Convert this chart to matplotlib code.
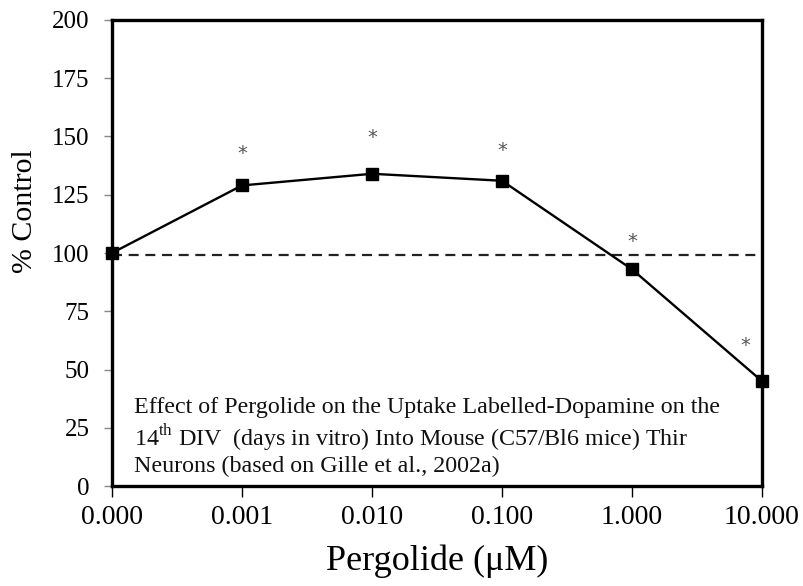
import matplotlib
matplotlib.use("Agg")
import matplotlib.pyplot as plt

plt.rcParams['font.family'] = ['Liberation Serif', 'DejaVu Serif']
plt.rcParams['mathtext.fontset'] = 'custom'
plt.rcParams['mathtext.rm'] = 'Liberation Serif'

# Pergolide concentrations (µM) shown as evenly spaced categories
dose_labels = ["0.000", "0.001", "0.010", "0.100", "1.000", "10.000"]
percent_control = [100, 129, 134, 131, 93, 45]
control_level = 99

# Significance markers: category index, height (% control)
star_idx = [1, 2, 3, 4, 4.87]
star_y = [142.5, 149.5, 144, 105, 60.5]

y_ticks = [0, 25, 50, 75, 100, 125, 150, 175, 200]

fig = plt.figure(figsize=(8.04, 5.86), dpi=100)
ax = fig.add_axes([0.1393, 0.1706, 0.8085, 0.7953])

x = list(range(len(dose_labels)))
ax.axhline(control_level, color='#222222', lw=1.6, ls=(0, (4.5, 3)),
           xmax=0.993, zorder=2)
ax.plot(x, percent_control, color='black', lw=1.7, marker='s',
        markersize=8.5, clip_on=False, zorder=4)

for xi, yi in zip(star_idx, star_y):
    ax.text(xi, yi, "*", ha='center', va='center', fontsize=14,
            color='#555555', family='DejaVu Sans')

ax.text(0.034, 0.019,
        "Effect of Pergolide on the Uptake Labelled-Dopamine on the\n"
        "14$^{\\mathrm{th}}$ DIV  (days in vitro) Into Mouse (C57/Bl6 mice) Thir\n"
        "Neurons (based on Gille et al., 2002a)",
        transform=ax.transAxes, ha='left', va='bottom', fontsize=17.3,
        linespacing=1.15, color='#111111')

ax.set_xlim(0, len(dose_labels) - 1)
ax.set_ylim(0, 200)
ax.set_xticks(x)
ax.set_xticklabels(dose_labels, fontsize=20)
ax.set_yticks(y_ticks)
ax.set_yticklabels([str(v) for v in y_ticks], fontsize=18)
ax.tick_params(axis='y', direction='out', length=6, width=1, color='#888888', pad=10)
ax.tick_params(axis='x', direction='out', length=8, width=1, color='black', pad=6)

for s in ax.spines.values():
    s.set_linewidth(2.4)
    s.set_color('black')

ax.set_xlabel("Pergolide (\u03bcM)", fontsize=26, labelpad=10)
ax.set_ylabel("% Control", fontsize=21.5, va='center')
ax.yaxis.set_label_coords(-0.1345, 0.59)

fig.savefig("out.png", dpi=100)
